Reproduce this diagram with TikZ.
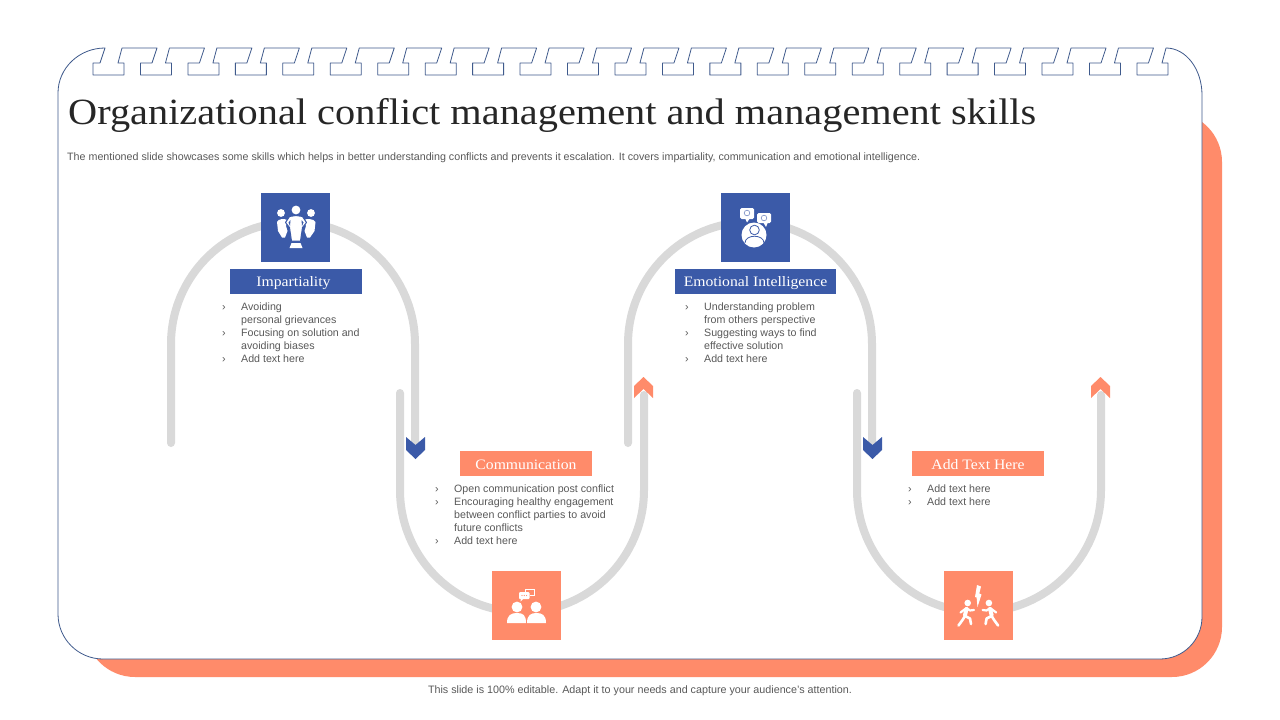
\documentclass[tikz,border=0pt]{standalone}
\usepackage{fontspec}
\setmainfont{Liberation Sans}
\newfontfamily\ttlfont[FakeStretch=1.09]{Liberation Serif}
\usetikzlibrary{calc}
\definecolor{bluefill}{HTML}{3B5AA8}
\definecolor{orangefill}{HTML}{FF8B6A}
\definecolor{trackgrey}{HTML}{D9D9D9}
\definecolor{edgeblue}{HTML}{3F5A8C}
\definecolor{bodygrey}{HTML}{595959}
\newcommand{\bodyfont}{\fontsize{10.65}{13}\selectfont}
\newcommand{\items}[1]{{\bodyfont\begin{tabular}{@{}p{19pt}@{}l@{}}#1\end{tabular}}}
\newcommand{\itm}{›&}
\tikzset{
  x=1pt,y=-1pt,
  track/.style={draw=trackgrey,line width=8pt,line cap=round},
  iconbox/.style={minimum width=69pt,minimum height=69pt,inner sep=0pt,draw=none},
  labelbox/.style={minimum height=25pt,inner sep=0pt,text=white},
  labeltext/.style={inner sep=0pt,text=white,font={\ttlfont\fontsize{14.4}{16}\selectfont}},
  listtext/.style={anchor=north west,inner sep=0pt,text=bodygrey},
  wl/.style={draw=white,line cap=round,line join=round},
}
\begin{document}
\begin{tikzpicture}
\useasboundingbox (0,0) rectangle (1280,720);
\fill[white] (0,0) rectangle (1280,720);
% shadow
\fill[orangefill,rounded corners=50pt] (85,112) rectangle (1222,677);
% frame with crenellated top
\filldraw[fill=white,draw=edgeblue,line width=0.8pt,line join=round]
  (105,48) -- (100,63)
  \foreach \i [evaluate=\i as \dx using \i*47.45] in {0,...,21} {
    -- ({93+\dx},63) -- ({93+\dx},75) -- ({124+\dx},75) -- ({124+\dx},63) -- ({118+\dx},63)
    -- ({122+\dx},48) -- ({157+\dx},48) -- ({152+\dx},63)
  }
  -- (1137,63) -- (1137,75) -- (1168,75) -- (1168,63) -- (1162,63) -- (1166,48)
  arc[start angle=270,end angle=360,x radius=36,y radius=47]
  -- (1202,617)
  arc[start angle=0,end angle=90,x radius=42,y radius=42]
  -- (103,659)
  arc[start angle=90,end angle=180,x radius=45,y radius=45]
  -- (58,93)
  arc[start angle=180,end angle=270,x radius=47,y radius=45]
  -- cycle;
% title + description
\node[anchor=west,inner sep=0pt,text=black!85] (title) at (68,115) {\ttlfont\fontsize{37}{40}\selectfont Organizational conflict management and management skills};
\node[anchor=west,inner sep=0pt,text=bodygrey] (desc) at (67,157.5) {\fontsize{10.7}{12}\selectfont The mentioned slide showcases some skills which helps in better understanding conflicts and prevents it escalation. It covers impartiality, communication and emotional intelligence.};
\node[inner sep=0pt,text=bodygrey] (foot) at (640,690.5) {\fontsize{10.75}{12}\selectfont This slide is 100\% editable. Adapt it to your needs and capture your audience's attention.};
% track end points
\coordinate (t1a) at (171,443); \coordinate (t1b) at (415,442);
\coordinate (t2a) at (400,393); \coordinate (t2b) at (644,395);
\coordinate (t3a) at (628,443); \coordinate (t3b) at (872,442);
\coordinate (t4a) at (857,393); \coordinate (t4b) at (1101,395);
% tracks
\draw[track] (t1a) -- (171,344) arc[start angle=180,end angle=360,radius=122] -- (t1b);
\draw[track] (t2a) -- (400,490) arc[start angle=180,end angle=0,radius=122] -- (t2b);
\draw[track] (t3a) -- (628,344) arc[start angle=180,end angle=360,radius=122] -- (t3b);
\draw[track] (t4a) -- (857,490) arc[start angle=180,end angle=0,radius=122] -- (t4b);
% chevrons
\foreach \cx in {415.5,872.5}
  \fill[bluefill] (\cx-9.5,437) -- (\cx,445) -- (\cx+9.5,437) -- (\cx+9.5,450) -- (\cx,459) -- (\cx-9.5,450) -- cycle;
\foreach \cx in {643.5,1100.5}
  \fill[orangefill] (\cx-9.5,398) -- (\cx,389) -- (\cx+9.5,398) -- (\cx+9.5,386) -- (\cx,377) -- (\cx-9.5,386) -- cycle;
% icon boxes
\node[iconbox,fill=bluefill] (icoA) at (295.5,227.5) {};
\node[iconbox,fill=bluefill] (icoC) at (755.5,227.5) {};
\node[iconbox,fill=orangefill] (icoB) at (526.5,605.5) {};
\node[iconbox,fill=orangefill] (icoD) at (978.5,605.5) {};
% label boxes
\node[labelbox,fill=bluefill,minimum width=132pt] (labA) at (296,281.5) {};
\node[labeltext] (txtA) at (293.5,283) {Impartiality};
\node[labelbox,fill=bluefill,minimum width=161pt] (labC) at (755.5,281.5) {};
\node[labeltext] (txtC) at (755.5,283) {Emotional Intelligence};
\node[labelbox,fill=orangefill,minimum width=132pt] (labB) at (526,463.5) {};
\node[labeltext] (txtB) at (526,465) {Communication};
\node[labelbox,fill=orangefill,minimum width=132pt] (labD) at (978,463.5) {};
\node[labeltext] (txtD) at (978,465) {Add Text Here};
% lists
\node[listtext] (listA) at (222,301.2) {\items{\itm Avoiding\\ & personal grievances\\ \itm Focusing on solution and\\ & avoiding biases\\ \itm Add text here\\}};
\node[listtext] (listC) at (685,301.2) {\items{\itm Understanding problem\\ & from others perspective\\ \itm Suggesting ways to find\\ & effective solution\\ \itm Add text here\\}};
\node[listtext] (listB) at (435,483.2) {\items{\itm Open communication post conflict\\ \itm Encouraging healthy engagement\\ & between conflict parties to avoid\\ & future conflicts\\ \itm Add text here\\}};
\node[listtext] (listD) at (908,483.2) {\items{\itm Add text here\\ \itm Add text here\\}};
% icon A: three people
\fill[white] (281,213) circle[radius=3.9];
\fill[white] (311,213) circle[radius=3.9];
\fill[white] (296,210) circle[radius=4.4];
\fill[white] (277,222) .. controls (278,218.5) and (285,218.5) .. (287,220) -- (286,226) -- (287.5,231) -- (285,237.5) -- (282,237.5) -- (278,231) -- cycle;
\fill[white] (304,220) .. controls (306,218.5) and (314,218.5) .. (315.5,222) -- (314.5,231) -- (310,237.5) -- (307,237.5) -- (304.5,231) -- (306,226) -- cycle;
\draw[bluefill,line width=1pt,fill=white,line join=round] (296,215.5) -- (302.5,216.5) -- (306.5,222.5) -- (302.5,227.5) -- (300.5,241) -- (291.5,241) -- (289.5,227.5) -- (285.5,222.5) -- (289.5,216.5) -- cycle;
\fill[bluefill] (288.5,222.5) -- (290,226) -- (290.5,220) -- cycle;
\fill[bluefill] (303.5,222.5) -- (302,226) -- (301.5,220) -- cycle;
\fill[white] (291.5,243) -- (300.5,243) -- (302.5,248) -- (289.5,248) -- cycle;
% icon C: head with speech bubbles
\fill[white] (754,235) circle[radius=12.5];
\draw[bluefill,line width=0.8pt] (754.5,230) circle[radius=4.8];
\draw[bluefill,line width=0.8pt] (745,243) .. controls (745,234) and (764,234) .. (764,243);
\fill[white,rounded corners=1.5pt] (740,208) rectangle (754,219);
\fill[white] (745,218) -- (747,222.5) -- (750,218) -- cycle;
\draw[bluefill!70,line width=0.6pt] (747,213) circle[radius=2.8];
\fill[white,rounded corners=1.5pt] (757,213) rectangle (771,223);
\fill[white] (763,222) -- (766,227) -- (768,222) -- cycle;
\draw[bluefill!70,line width=0.6pt] (764,218) circle[radius=2.8];
% icon B: two people with bubbles
\fill[white] (517,607) circle[radius=5.4];
\fill[white] (536,607) circle[radius=5.4];
\fill[white] (507,623) .. controls (507,615) and (511,613) .. (517,613) .. controls (523,613) and (526,615) .. (526,623) -- cycle;
\fill[white] (527,623) .. controls (527,615) and (531,613) .. (536.5,613) .. controls (542,613) and (546,615) .. (546,623) -- cycle;
\draw[white,line width=0.7pt] (525,592) -- (525,589) -- (534.5,589) -- (534.5,595) -- (530,595);
\fill[white,rounded corners=1pt] (519,592) rectangle (529.5,599);
\fill[white] (521,598) -- (520.5,601.5) -- (524,598) -- cycle;
\foreach \dotx in {522,524.3,526.6} \fill[orangefill] (\dotx,595.5) circle[radius=0.6];
% icon D: two running people with lightning
\fill[white] (977,585) -- (981,586.5) -- (979.3,593.5) -- (981.5,594.5) -- (977.5,607) -- (976.6,597.5) -- (975,597) -- cycle;
\foreach \m in {0,1} {
  \begin{scope}[shift={(\m*1956.6,0)},xscale={1-2*\m}]
    \fill[white] (967.7,603) circle[radius=3.3];
    \draw[wl,line width=4pt] (966.5,609) -- (965,615);
    \draw[wl,line width=2.2pt] (960.5,612.5) -- (966.5,608) -- (970,610.5) -- (974,610);
    \draw[wl,line width=2.6pt] (965,616) -- (962.5,620) -- (958.5,625.5);
    \draw[wl,line width=2.6pt] (965,616) -- (970,618.5) -- (971,624);
  \end{scope}
}
\end{tikzpicture}
\end{document}
